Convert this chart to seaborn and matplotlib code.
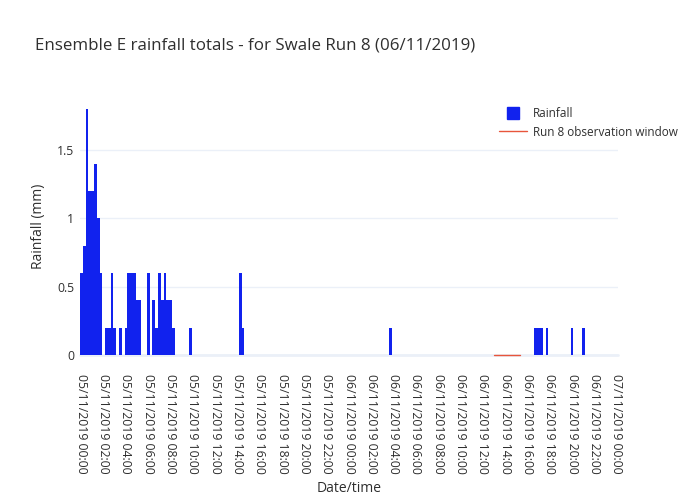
import pandas as pd
import seaborn as sns
import matplotlib.pyplot as plt
from matplotlib.lines import Line2D

# rainfall per 15 min slot (only the non-zero slots)
rain_times = [
    "2019-11-05 00:00", "2019-11-05 00:15", "2019-11-05 00:30", "2019-11-05 00:45",
    "2019-11-05 01:00", "2019-11-05 01:15", "2019-11-05 01:30", "2019-11-05 01:45",
    "2019-11-05 02:15", "2019-11-05 02:30", "2019-11-05 02:45", "2019-11-05 03:00",
    "2019-11-05 03:30", "2019-11-05 04:00", "2019-11-05 04:15", "2019-11-05 04:30",
    "2019-11-05 04:45", "2019-11-05 05:00", "2019-11-05 05:15", "2019-11-05 06:00",
    "2019-11-05 06:30", "2019-11-05 06:45", "2019-11-05 07:00", "2019-11-05 07:15",
    "2019-11-05 07:30", "2019-11-05 07:45", "2019-11-05 08:00", "2019-11-05 08:15",
    "2019-11-05 09:45", "2019-11-05 14:15", "2019-11-05 14:30", "2019-11-06 03:45",
    "2019-11-06 16:45", "2019-11-06 17:00", "2019-11-06 17:15", "2019-11-06 17:45",
    "2019-11-06 20:00", "2019-11-06 21:00",
]
rain_mm = [
    0.6, 0.8, 1.8, 1.2,
    1.2, 1.4, 1.0, 0.6,
    0.2, 0.2, 0.6, 0.2,
    0.2, 0.2, 0.6, 0.6,
    0.6, 0.4, 0.4, 0.6,
    0.4, 0.2, 0.6, 0.4,
    0.6, 0.4, 0.4, 0.2,
    0.2, 0.6, 0.2, 0.2,
    0.2, 0.2, 0.2, 0.2,
    0.2, 0.2,
]
window_times = ["2019-11-06 13:00", "2019-11-06 15:20"]
window_mm = [0, 0]

start = pd.Timestamp("2019-11-05 00:00")
end = pd.Timestamp("2019-11-07 00:00")
step = 0.25  # hours

df = pd.DataFrame({"time": pd.to_datetime(rain_times), "rain": rain_mm})
df["hours"] = (df["time"] - start) / pd.Timedelta(hours=1)
win = pd.DataFrame({"time": pd.to_datetime(window_times), "rain": window_mm})
win["hours"] = (win["time"] - start) / pd.Timedelta(hours=1)

total_h = (end - start) / pd.Timedelta(hours=1)
edges = [-step / 2 + i * step for i in range(int(total_h / step) + 2)]

sns.set_theme(style="white")
plt.rcParams["font.family"] = ["Open Sans", "DejaVu Sans"]
txt = "#2f2f2f"
blue = "#1122ee"
red = "#e8553b"

fig = plt.figure(figsize=(7, 5), dpi=100)
ax = fig.add_axes([80 / 700, 1 - 355 / 500, 538 / 700, 258 / 500])

sns.histplot(data=df, x="hours", weights="rain", bins=edges, color=blue,
             alpha=1, linewidth=0, ax=ax, zorder=3)
sns.lineplot(data=win, x="hours", y="rain", color=red, linewidth=1, ax=ax,
             zorder=4, clip_on=False)

ax.set_xlim(edges[0], edges[-1])
ax.set_ylim(0, 1.89)
ticks = [i * 2 for i in range(25)]
ax.set_xticks(ticks)
ax.set_xticklabels([(start + pd.Timedelta(hours=h)).strftime("%d/%m/%Y %H:%M") for h in ticks],
                   rotation=-90, fontsize=8.8, color=txt)
ax.set_yticks([0, 0.5, 1, 1.5])
ax.set_yticklabels(["0", "0.5", "1", "1.5"], fontsize=8.8, color=txt)
ax.tick_params(axis="y", length=0, pad=4)
ax.tick_params(axis="x", length=0, pad=14)
for s in ax.spines.values():
    s.set_visible(False)
ax.grid(axis="y", color="#ebf0f8", linewidth=1)
ax.grid(axis="x", visible=False)
ax.axhline(0, color="#ebf0f8", linewidth=2, zorder=1, clip_on=False)
ax.set_axisbelow(True)

ax.set_xlabel("Date/time", fontsize=10, color=txt, labelpad=5)
ax.set_ylabel("Rainfall (mm)", fontsize=10, color=txt, labelpad=8)
fig.text(35 / 700, 1 - 45 / 500, "Ensemble E rainfall totals - for Swale Run 8 (06/11/2019)",
         fontsize=12.2, color=txt, va="center")

handles = [
    Line2D([], [], marker="s", linestyle="none", markersize=9, color=blue),
    Line2D([], [], color=red, linewidth=1),
]
fig.legend(handles, ["Rainfall", "Run 8 observation window"], loc="upper left",
           bbox_to_anchor=(494 / 700, 1 - 102 / 500), frameon=False, fontsize=8.5,
           labelcolor=txt, handlelength=2.4, handletextpad=0.5, labelspacing=0.5,
           borderaxespad=0)

fig.savefig("out.png", dpi=100)
